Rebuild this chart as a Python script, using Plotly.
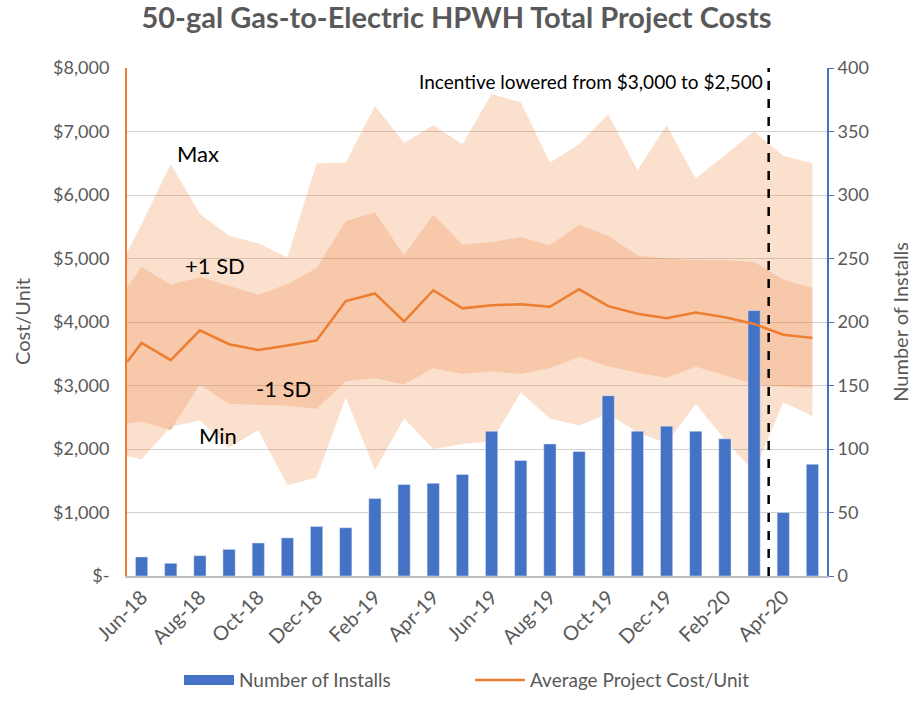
import plotly.graph_objects as go

# ---- data ----
months = ["Jun-18", "Jul-18", "Aug-18", "Sep-18", "Oct-18", "Nov-18", "Dec-18", "Jan-19",
          "Feb-19", "Mar-19", "Apr-19", "May-19", "Jun-19", "Jul-19", "Aug-19", "Sep-19",
          "Oct-19", "Nov-19", "Dec-19", "Jan-20", "Feb-20", "Mar-20", "Apr-20", "May-20"]
installs = [15, 10, 16, 21, 26, 30, 39, 38, 61, 72, 73, 80, 114, 91, 104, 98,
            142, 114, 118, 114, 108, 209, 50, 88]

# cost statistics; first value of each list sits at the left edge of the plot
avg_cost = [3370, 3670, 3400, 3870, 3650, 3560, 3630, 3710, 4330, 4450, 4010, 4500, 4215,
            4265, 4280, 4240, 4515, 4250, 4130, 4060, 4150, 4075, 3970, 3800, 3750]
max_cost = [5090, 5540, 6490, 5700, 5360, 5240, 5020, 6500, 6510, 7400, 6820, 7100, 6800,
            7590, 7460, 6510, 6800, 7270, 6390, 7100, 6260, 6630, 7000, 6620, 6500]
plus_sd = [4550, 4870, 4590, 4710, 4570, 4430, 4600, 4850, 5590, 5730, 5050, 5690, 5220,
           5260, 5340, 5210, 5530, 5360, 5050, 5000, 4980, 4975, 4950, 4670, 4540]
minus_sd = [2400, 2430, 2300, 3010, 2710, 2700, 2680, 2630, 3065, 3115, 3015, 3270, 3180,
            3220, 3180, 3270, 3450, 3300, 3200, 3120, 3295, 3160, 3015, 2980, 2960]
min_cost = [1890, 1840, 2350, 2450, 2020, 2300, 1430, 1550, 2810, 1670, 2480, 2000, 2080,
            2120, 2890, 2480, 2370, 2555, 2260, 2095, 2710, 2150, 1635, 2735, 2515]

cost_ticks = [0, 1000, 2000, 3000, 4000, 5000, 6000, 7000, 8000]
cost_tick_text = ["$-", "$1,000", "$2,000", "$3,000", "$4,000", "$5,000", "$6,000", "$7,000", "$8,000"]
install_ticks = [0, 50, 100, 150, 200, 250, 300, 350, 400]
shown_months = months[::2]
band_labels = ["Max", "+1 SD", "-1 SD", "Min"]
band_label_pos = [(1.94, 6650), (2.5, 4890), (4.86, 2945), (2.63, 2210)]
incentive_change = 21.5
incentive_text = "Incentive lowered from $3,000 to $2,500"

# ---- positions ----
bar_x = list(range(len(months)))
stat_x = [-0.5] + bar_x

ORANGE = "#ED7D31"
BLUE = "#4472C4"
GRAY = "#595959"
LIGHT = "rgba(237,125,49,0.24)"
DARK = "rgba(237,125,49,0.42)"
FONT = "Lato"

fig = go.Figure()
fig.add_trace(go.Scatter(x=stat_x, y=min_cost, mode="lines", line=dict(width=0),
                         showlegend=False, hoverinfo="skip"))
fig.add_trace(go.Scatter(x=stat_x, y=minus_sd, mode="lines", line=dict(width=0),
                         fill="tonexty", fillcolor=LIGHT, showlegend=False, hoverinfo="skip"))
fig.add_trace(go.Scatter(x=stat_x, y=plus_sd, mode="lines", line=dict(width=0),
                         fill="tonexty", fillcolor=DARK, showlegend=False, hoverinfo="skip"))
fig.add_trace(go.Scatter(x=stat_x, y=max_cost, mode="lines", line=dict(width=0),
                         fill="tonexty", fillcolor=LIGHT, showlegend=False, hoverinfo="skip"))
fig.add_trace(go.Bar(x=bar_x, y=installs, name="Number of Installs", marker_color=BLUE,
                     width=0.42, yaxis="y2", showlegend=False))
# legend key for the bars, drawn as a wide block like the original legend
fig.add_trace(go.Scatter(x=[None], y=[None], mode="lines", name="Number of Installs",
                         line=dict(color=BLUE, width=10), yaxis="y2"))
fig.add_trace(go.Scatter(x=stat_x, y=avg_cost, mode="lines", name="Average Project Cost/Unit",
                         line=dict(color=ORANGE, width=2.5), yaxis="y3"))

fig.update_layout(
    width=913, height=711,
    margin=dict(l=127, r=86, t=68, b=121),
    paper_bgcolor="white", plot_bgcolor="white",
    font=dict(family=FONT, color=GRAY),
    title=dict(text="<b>50-gal Gas-to-Electric HPWH Total Project Costs</b>",
               x=0.5, xanchor="center", y=0.975, yanchor="middle",
               font=dict(size=29, color=GRAY, family=FONT)),
    xaxis=dict(range=[-0.5, len(months) - 0.5], tickmode="array", tickvals=bar_x[::2],
               ticktext=shown_months, tickangle=-45, tickfont=dict(size=20, color=GRAY),
               showgrid=False, zeroline=False, showline=True, linecolor="#BFBFBF",
               linewidth=1.5, ticks="", automargin=False),
    yaxis=dict(range=[0, 8000], tickmode="array", tickvals=cost_ticks, ticktext=cost_tick_text,
               tickfont=dict(size=18, color=GRAY), showgrid=True, gridcolor="#D0D0D0",
               gridwidth=1, zeroline=False, showline=True, linecolor=ORANGE, linewidth=2,
               ticks="", ticklabelstandoff=12, automargin=False),
    yaxis2=dict(range=[0, 400], overlaying="y", side="right", tickmode="array",
                tickvals=install_ticks, tickfont=dict(size=18, color=GRAY), showgrid=False,
                zeroline=False, showline=True, linecolor=BLUE, linewidth=2, ticks="outside",
                ticklen=5, tickcolor=BLUE, automargin=False),
    yaxis3=dict(range=[0, 8000], overlaying="y", visible=False),
    legend=dict(orientation="h", x=0.49, xanchor="center", y=-0.205, yanchor="middle",
                font=dict(size=19, color=GRAY), traceorder="normal", itemwidth=50,
                entrywidth=226, entrywidthmode="pixels"),
    bargap=0.5,
)

fig.add_annotation(x=-0.15, y=0.5, xref="paper", yref="paper", text="Cost/Unit",
                   xanchor="center", yanchor="middle",
                   textangle=-90, showarrow=False, font=dict(size=20, color=GRAY))
fig.add_annotation(x=1.104, y=0.5, xref="paper", yref="paper", text="Number of Installs",
                   xanchor="center", yanchor="middle",
                   textangle=-90, showarrow=False, font=dict(size=20, color=GRAY))

fig.add_shape(type="line", x0=incentive_change, x1=incentive_change, y0=0, y1=1,
              xref="x", yref="paper", line=dict(color="black", width=2.5, dash="dash"))
fig.add_annotation(x=incentive_change, y=1, xref="x", yref="paper", text=incentive_text,
                   showarrow=False, xanchor="right", yanchor="top", xshift=-4, yshift=0,
                   font=dict(size=19, color="black", family=FONT))

for label, (lx, ly) in zip(band_labels, band_label_pos):
    fig.add_annotation(x=lx, y=ly, xref="x", yref="y", text=label, showarrow=False,
                       font=dict(size=22, color="black", family=FONT))

fig.write_html("out.html", config={"displayModeBar": False},
               post_script="document.body.style.margin='0';")
